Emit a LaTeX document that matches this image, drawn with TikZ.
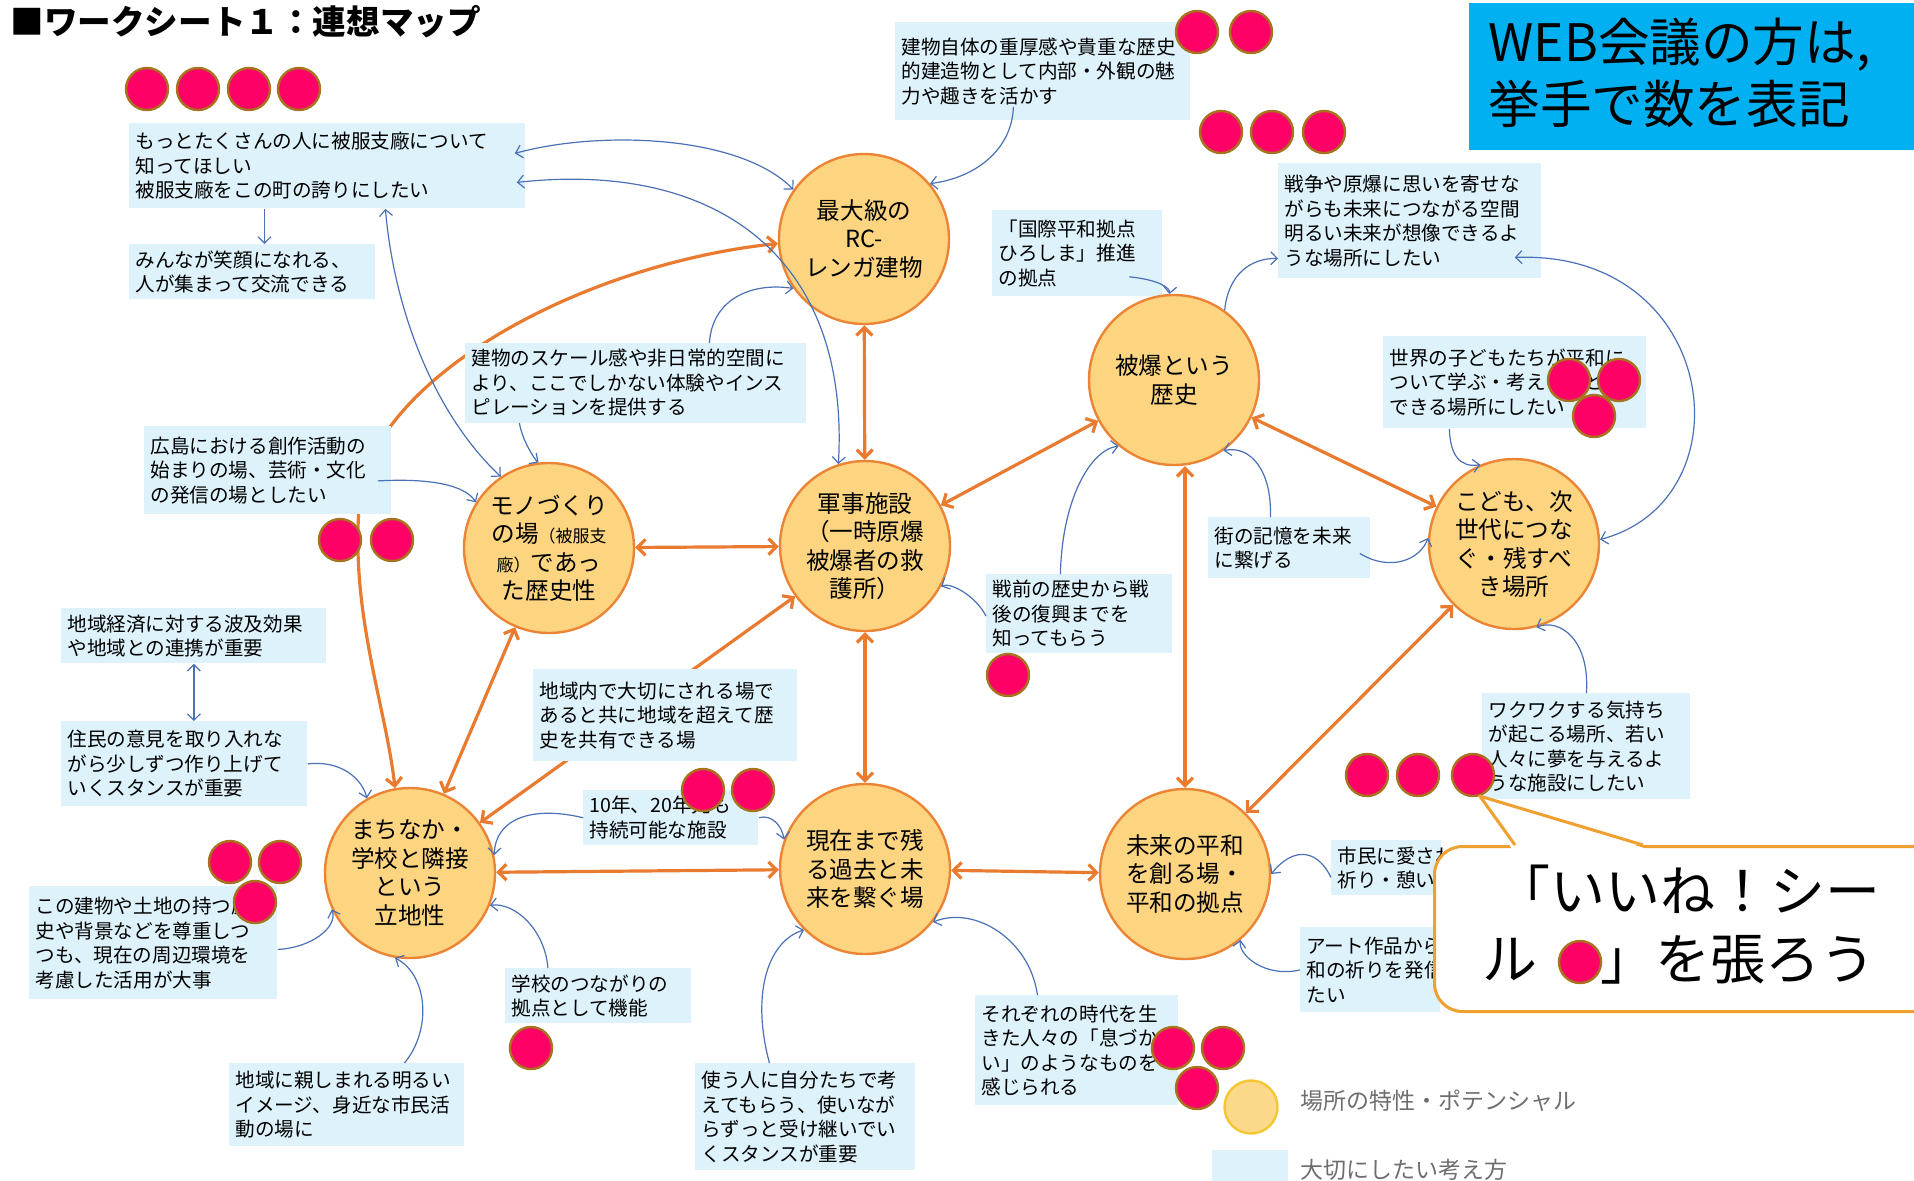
\documentclass[tikz,border=0pt]{standalone}
\usepackage{fontspec}
\setmainfont{Noto Sans CJK JP}
\usetikzlibrary{arrows.meta}
\pgfdeclarelayer{bg}
\pgfsetlayers{bg,main}
\definecolor{boxbg}{HTML}{DDF2FB}
\definecolor{circfill}{HTML}{FDD580}
\definecolor{circline}{HTML}{EB8535}
\definecolor{arrorange}{HTML}{E97B30}
\definecolor{lineblue}{HTML}{4A70B5}
\definecolor{stkred}{HTML}{FF0066}
\definecolor{stkline}{HTML}{A8731E}
\definecolor{webblue}{HTML}{00B0F0}
\definecolor{callline}{HTML}{F0A030}
\definecolor{legline}{HTML}{F3C633}
\definecolor{legfill}{HTML}{FCD98A}
\definecolor{greytext}{HTML}{6E6E6E}
\newcommand\tbox[6]{%
  \pgfmathsetmacro\tbw{(#4-12)/2}%
  \pgfmathsetmacro\tbh{#5/2}%
  \node[tb,text width=\tbw pt,minimum height=\tbh pt] (#1) at (#2,#3) {#6};}
\begin{document}
\begin{tikzpicture}[x=0.5pt,y=-0.5pt,
  tb/.style={fill=boxbg,anchor=north west,inner xsep=3pt,inner ysep=3pt,align=left,
    font=\fontsize{9.8pt}{12.25pt}\selectfont},
  circ/.style={circle,minimum size=85pt,inner sep=0pt,fill=circfill,draw=circline,
    line width=1.2pt,align=center,font=\fontsize{11.8pt}{14.2pt}\selectfont},
  stk/.style={circle,minimum size=21pt,inner sep=0pt,fill=stkred,draw=stkline,line width=1.2pt},
  ol/.style={draw=arrorange,line width=1.6pt,>={Straight Barb[length=4pt,width=8pt]}},
  bl/.style={draw=lineblue,line width=0.6pt,>={Straight Barb[length=3.2pt,width=6.5pt]}},
  bigtxt/.style={anchor=west,inner sep=0pt,font=\fontsize{27.5pt}{30pt}\selectfont},
  legtxt/.style={anchor=west,inner sep=0pt,text=greytext,font=\fontsize{11.5pt}{13pt}\selectfont}]
\useasboundingbox (0,0) rectangle (1914,1180);
\clip (0,0) rectangle (1914,1180);

% title
\node[anchor=west,inner sep=0pt,font=\fontsize{16.8pt}{20pt}\selectfont\bfseries] (title) at (10,22) {■ワークシート１：連想マップ};

% web box
\node[fill=webblue,anchor=north west,minimum width=222.5pt,minimum height=73.5pt,inner sep=0pt] (web) at (1469,3) {};
\node[anchor=west,inner sep=0pt,align=left,font=\fontsize{25.8pt}{31pt}\selectfont] (webtxt) at (1488,73) {WEB会議の方は,\\挙手で数を表記};

% text boxes
\tbox{b1}{129}{123}{396}{85}{もっとたくさんの人に被服支廠について\\知ってほしい\\被服支廠をこの町の誇りにしたい}
\tbox{b2}{129}{244}{246}{55}{みんなが笑顔になれる、\\人が集まって交流できる}
\tbox{b3}{895}{22}{295}{98}{建物自体の重厚感や貴重な歴史\\的建造物として内部・外観の魅\\力や趣きを活かす}
\tbox{b4}{992}{210}{170}{86}{「国際平和拠点\\ひろしま」推進\\の拠点}
\tbox{b5}{1278}{163}{263}{115}{戦争や原爆に思いを寄せな\\がらも未来につながる空間\\明るい未来が想像できるよ\\うな場所にしたい}
\tbox{b6}{465}{343}{341}{78}{建物のスケール感や非日常的空間に\\より、ここでしかない体験やインス\\ピレーションを提供する}
\tbox{b7}{144}{426}{247}{88}{広島における創作活動の\\始まりの場、芸術・文化\\の発信の場としたい}
\tbox{b8}{61}{608}{265}{55}{地域経済に対する波及効果\\や地域との連携が重要}
\tbox{b9}{61}{721}{246}{85}{住民の意見を取り入れな\\がら少しずつ作り上げて\\いくスタンスが重要}
\tbox{b10}{533}{669}{264}{92}{地域内で大切にされる場で\\あると共に地域を超えて歴\\史を共有できる場}
\tbox{b11}{583}{790}{175}{53}{10年、20年先も\\持続可能な施設}
\tbox{b12}{505}{968}{186}{55}{学校のつながりの\\拠点として機能}
\tbox{b13}{229}{1063}{235}{83}{地域に親しまれる明るい\\イメージ、身近な市民活\\動の場に}
\tbox{b14}{29}{886}{248}{113}{この建物や土地の持つ歴\\史や背景などを尊重しつ\\つも、現在の周辺環境を\\考慮した活用が大事}
\tbox{b15}{695}{1063}{220}{107}{使う人に自分たちで考\\えてもらう、使いなが\\らずっと受け継いでい\\くスタンスが重要}
\tbox{b16}{975}{995}{203}{110}{それぞれの時代を生\\きた人々の「息づか\\い」のようなものを\\感じられる}
\tbox{b17}{986}{574}{186}{77}{戦前の歴史から戦\\後の復興までを\\知ってもらう}
\tbox{b18}{1208}{517}{162}{61}{街の記憶を未来\\に繋げる}
\tbox{b19}{1383}{336}{263}{92}{世界の子どもたちが平和に\\ついて学ぶ・考えることが\\できる場所にしたい}
\tbox{b20}{1482}{693}{208}{106}{ワクワクする気持ち\\が起こる場所、若い\\人々に夢を与えるよ\\うな施設にしたい}
\tbox{b21}{1331}{840}{110}{55}{市民に愛され、平和の\\祈り・憩いの場}
\tbox{b22}{1300}{927}{140}{85}{アート作品から平\\和の祈りを発信し\\たい}

% circles
\node[circ] (A) at (864,239) {最大級の\\RC-\\レンガ建物};
\node[circ] (B) at (865,546) {軍事施設\\（一時原爆\\被爆者の救\\護所）};
\node[circ] (C) at (549,548) {モノづくり\\の場{\fontsize{8.5pt}{10pt}\selectfont（被服支}\\{\fontsize{8.5pt}{10pt}\selectfont 廠）}であっ\\た歴史性};
\node[circ] (D) at (1174,380) {被爆という\\歴史};
\node[circ] (E) at (1514,544) {こども、次\\世代につな\\ぐ・残すべ\\き場所};
\node[circ] (F) at (410,873) {まちなか・\\学校と隣接\\という\\立地性};
\node[circ] (G) at (865,869) {現在まで残\\る過去と未\\来を繋ぐ場};
\node[circ] (H) at (1185,874) {未来の平和\\を創る場・\\平和の拠点};

% orange connectors (behind)
\begin{pgfonlayer}{bg}
\draw[ol,<->] (A) -- (B);
\draw[ol,<->] (C) -- (B);
\draw[ol,<->] (B) -- (D);
\draw[ol,<->] (D) -- (E);
\draw[ol,<->] (D.south -| H.north) -- (H.north);
\draw[ol,<->] (E) -- (H);
\draw[ol,<->] (G) -- (H);
\draw[ol,<->] (B) -- (G);
\draw[ol,<->] (F) -- (G);
\draw[ol,<->] (F) -- (C);
\draw[ol,<->] (F) -- (B);
\draw[ol,<->] (A.183) .. controls (600,262) and (400,360) .. (362,480) .. controls (345,600) and (385,700) .. (F.100);
\end{pgfonlayer}

% blue connectors
\draw[bl,<->] ([xshift=-5.5pt,yshift=6.25pt]b1.east) .. controls (600,130) and (740,135) .. (A.145);
\draw[bl,<->] ([xshift=-4.5pt,yshift=-8.25pt]b1.east) .. controls (720,160) and (850,260) .. (B.108);
\draw[bl,->] ([xshift=-31.5pt]b1.south) -- ([xshift=-31.5pt]b1.south |- b2.north);
\draw[bl,<->] ([xshift=29pt]b1.south) .. controls (395,320) and (440,420) .. (C.124);
\draw[bl,->] ([xshift=-58.25pt]b6.south) .. controls (522,440) and (535,460) .. (C.97);
\draw[bl,->] ([xshift=36.75pt]b6.north) .. controls (712,300) and (750,282) .. (A.215);
\draw[bl,->] ([xshift=-7pt,yshift=-5.25pt]b7.east) .. controls (430,478) and (465,485) .. (C.148);
\draw[bl,->] ([xshift=-14.75pt,yshift=7pt]b3.south) .. controls (1012,150) and (975,178) .. (A.40);
\draw[bl,->] ([xshift=26pt,yshift=10pt]b4.south) .. controls (1160,280) and (1170,288) .. (D.93);
\draw[bl,->] (D.54) .. controls (1228,275) and (1250,258) .. ([yshift=-18.75pt]b5.west);
\draw[bl,<->] (E.3) .. controls (1750,500) and (1720,250) .. ([xshift=-13.5pt,yshift=-18.25pt]b5.east);
\draw[bl,->] ([xshift=-32.75pt]b19.south) .. controls (1450,455) and (1460,468) .. (E.113);
\draw[bl,->] ([xshift=-5.5pt,yshift=-2.75pt]b18.east) .. controls (1390,572) and (1420,560) .. (E.176);
\draw[bl,->] ([xshift=-9.5pt]b18.north) .. controls (1272,470) and (1250,445) .. (D.-55);
\draw[bl,->] ([xshift=-9.5pt]b17.north) .. controls (1062,500) and (1090,450) .. (D.230);
\draw[bl,->] ([yshift=-1pt]b17.west) .. controls (975,595) and (950,582) .. (B.-28);
\draw[bl,->] (b20.north) .. controls (1590,640) and (1560,618) .. (E.-75);
\draw[bl,->] ([yshift=-4.75pt]b21.west) .. controls (1315,845) and (1290,850) .. (H.east);
\draw[bl,->] (b22.west) .. controls (1265,978) and (1238,955) .. (H.-50);
\draw[bl,->] ([xshift=-19.75pt]b16.north) .. controls (1030,940) and (975,905) .. (G.-38);
\draw[bl,->] ([xshift=-18pt]b15.north) .. controls (750,990) and (770,940) .. (G.225);
\draw[bl,->] (b11.east) .. controls (772,814) and (782,826) .. (G.160);
\draw[bl,->] (b11.west) .. controls (530,805) and (495,820) .. (F.12);
\draw[bl,->] ([xshift=-25.25pt]b12.north) .. controls (545,930) and (515,902) .. (F.-22);
\draw[bl,->] ([xshift=28.75pt]b13.north) .. controls (432,1030) and (428,975) .. (F.-100);
\draw[bl,->] ([yshift=-3.25pt]b14.east) .. controls (310,948) and (338,928) .. (F.205);
\draw[bl,->] (b9.east) .. controls (340,760) and (362,778) .. (F.120);
\draw[bl,<->] (b8.south) -- (b8.south |- b9.north);

% stickers
\foreach \n/\x/\y in {s1/147/89,s2/198/89,s3/249/89,s4/299/89,
  s5/1197/32,s6/1251/32,s7/1221/132,s8/1272/132,s9/1324/132,
  s10/340/540,s11/392/540,s12/1569/380,s13/1619/380,s14/1594/416,
  s15/1008/675,s16/1367/775,s17/1418/775,s18/1473/775,
  s19/703/790,s20/753/790,s21/230/862,s22/280/862,s23/255/902,
  s24/531/1048,s25/1173/1048,s26/1223/1048,s27/1197/1088}
  \node[stk] (\n) at (\x,\y) {};

% callout
\node[draw=callline,line width=1.5pt,fill=white,rounded corners=14pt,anchor=north west,
  minimum width=260pt,minimum height=82.5pt,inner sep=0pt] (co) at (1433,845) {};
\fill[white] (1512,849) -- (s18.-72) -- (1647,849) -- cycle;
\draw[callline,line width=1.5pt,line join=round] (1515,845) -- (s18.-72) -- (1643,845);
\node[bigtxt] (ct1) at (1495,889) {「いいね！シー};
\node[bigtxt] (ct2) at (1482,960) {ル};
\node[stk] (s28) at (1580,962) {};
\node[bigtxt] (ct3) at (1600,960) {」を張ろう};

% legend
\node[circle,minimum size=26.5pt,inner sep=0pt,fill=legfill,draw=legline,line width=1.2pt] (lc) at (1251,1107) {};
\node[legtxt] (lt1) at (1300,1101) {場所の特性・ポテンシャル};
\node[fill=boxbg,anchor=north west,minimum width=38pt,minimum height=20pt,inner sep=0pt] (lb) at (1212,1150) {};
\node[legtxt] (lt2) at (1300,1170) {大切にしたい考え方};
\end{tikzpicture}
\end{document}
